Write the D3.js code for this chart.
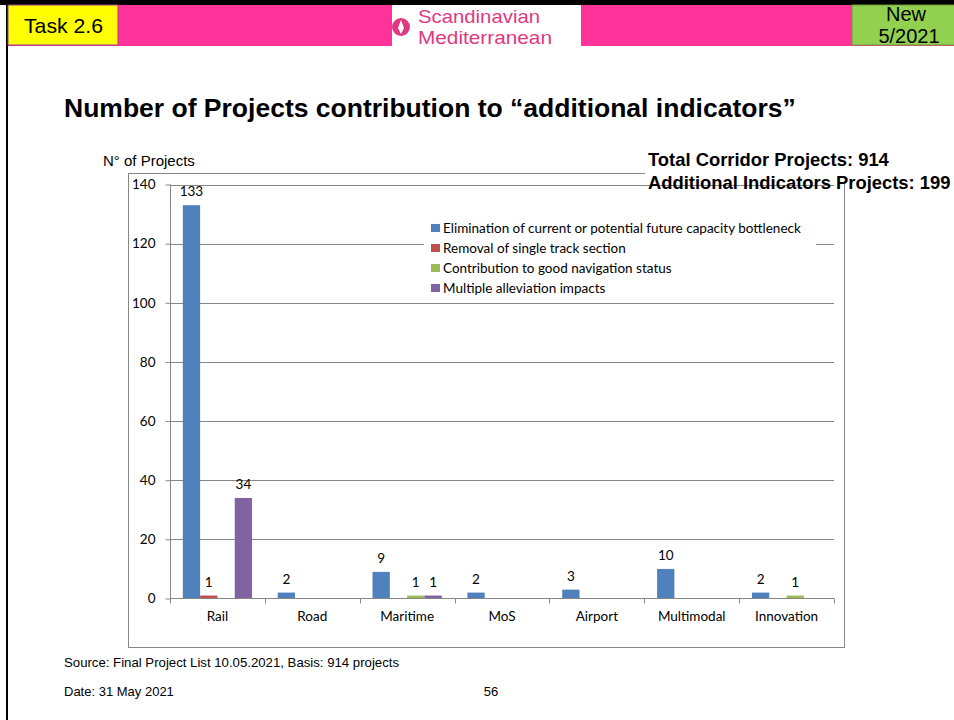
<!DOCTYPE html>
<html>
<head>
<meta charset="utf-8">
<script src="https://cdn.jsdelivr.net/npm/d3@7"></script>
<style>
  body { margin: 0; background: #fff; }
  svg { display: block; }
</style>
</head>
<body>
<script>
// chart values
var categories = ["Rail", "Road", "Maritime", "MoS", "Airport", "Multimodal", "Innovation"];
var seriesNames = [
  "Elimination of current or potential future capacity bottleneck",
  "Removal of single track section",
  "Contribution to good navigation status",
  "Multiple alleviation impacts"
];
var bottleneck  = [133, 2, 9, 2, 3, 10, 2];
var singleTrack = [1, 0, 0, 0, 0, 0, 0];
var navigation  = [0, 0, 1, 0, 0, 0, 1];
var multiple    = [34, 0, 1, 0, 0, 0, 0];
var yTicks = [0, 20, 40, 60, 80, 100, 120, 140];
var colors = ["#4F81BD", "#C0504D", "#9BBB59", "#8064A2"];

var seriesValues = [bottleneck, singleTrack, navigation, multiple];

var W = 954, H = 720;
var arial = "Liberation Sans, Arial, sans-serif";
var chartFont = "Lato, 'Open Sans', sans-serif";

var svg = d3.select("body").append("svg")
    .attr("width", W)
    .attr("height", H);

// slide header
svg.append("rect").attr("x", 0).attr("y", 0).attr("width", W).attr("height", 5).attr("fill", "#000");
svg.append("rect").attr("x", 6).attr("y", 0).attr("width", 2).attr("height", H).attr("fill", "#000");
svg.append("rect").attr("x", 8).attr("y", 5).attr("width", W - 8).attr("height", 41).attr("fill", "#FF3399");
svg.append("rect").attr("x", 8).attr("y", 5).attr("width", 110).attr("height", 40)
    .attr("fill", "#FFFF00").attr("stroke", "#9B3C8C").attr("stroke-width", 1);
svg.append("text").attr("x", 24).attr("y", 33)
    .attr("textLength", 79).attr("lengthAdjust", "spacingAndGlyphs")
    .style("font-family", arial).style("font-size", "21px")
    .text("Task 2.6");

svg.append("rect").attr("x", 852).attr("y", 5).attr("width", 104).attr("height", 40)
    .attr("fill", "#92D050").attr("stroke", "#6A9A3A").attr("stroke-width", 1);
var nw = svg.append("text").attr("text-anchor", "middle")
    .style("font-family", arial).style("font-size", "20px");
nw.append("tspan").attr("x", 906).attr("y", 21).text("New");
nw.append("tspan").attr("x", 909).attr("y", 43).text("5/2021");

// logo
svg.append("rect").attr("x", 392).attr("y", 5).attr("width", 189).attr("height", 41).attr("fill", "#fff");
svg.append("circle").attr("cx", 401).attr("cy", 27).attr("r", 9).attr("fill", "#E0397F");
svg.append("path").attr("d", "M401,20 L404,28 L401,34 L398,28 Z").attr("fill", "#fff");
var logo = svg.append("text")
    .style("font-family", arial).style("font-size", "19px")
    .attr("fill", "#E0397F");
logo.append("tspan").attr("x", 418).attr("y", 23)
    .attr("textLength", 122).attr("lengthAdjust", "spacingAndGlyphs").text("Scandinavian");
logo.append("tspan").attr("x", 418).attr("y", 44)
    .attr("textLength", 134).attr("lengthAdjust", "spacingAndGlyphs").text("Mediterranean");

// title
svg.append("text").attr("x", 64).attr("y", 117)
    .style("font-family", arial).style("font-size", "26.5px")
    .style("font-weight", "bold")
    .text("Number of Projects contribution to \u201Cadditional indicators\u201D");

// chart frame
svg.append("rect").attr("x", 128.5).attr("y", 173.5).attr("width", 716).attr("height", 474)
    .attr("fill", "#fff").attr("stroke", "#868686").attr("stroke-width", 1);

// axis title
svg.append("text").attr("x", 103).attr("y", 166)
    .style("font-family", arial).style("font-size", "15px")
    .text("N\u00B0 of Projects");

// white box of totals (covers frame corner)
svg.append("rect").attr("x", 645).attr("y", 148).attr("width", W - 645).attr("height", 33).attr("fill", "#fff");

var margin = {left: 170, right: 834, top: 184.5, bottom: 598.5};

var x0 = d3.scaleBand().domain(categories).range([margin.left, margin.right]).padding(0);
var x1 = d3.scaleBand().domain(d3.range(seriesNames.length))
    .range([0, x0.bandwidth()]).paddingInner(0).paddingOuter(0.74);
var y = d3.scaleLinear().domain([0, 140]).range([margin.bottom, margin.top]);

// gridlines
svg.append("g").selectAll("line")
  .data(yTicks.filter(function(d) { return d > 0; }))
  .enter().append("line")
    .attr("x1", margin.left).attr("x2", margin.right)
    .attr("y1", function(d) { return Math.round(y(d)) + 0.5; })
    .attr("y2", function(d) { return Math.round(y(d)) + 0.5; })
    .attr("stroke", "#868686").attr("stroke-width", 1);

// y axis
var yAxis = svg.append("g")
    .attr("transform", "translate(" + (margin.left + 0.5) + ",0)")
    .call(d3.axisLeft(y).tickValues(yTicks).tickSize(5).tickPadding(10));
yAxis.select(".domain").attr("stroke", "#868686").attr("d", "M0," + margin.top + "V" + margin.bottom);
yAxis.selectAll(".tick line").attr("stroke", "#868686");
yAxis.selectAll(".tick text")
    .style("font-family", chartFont).style("font-size", "13.5px").attr("fill", "#000");

// bars
var groups = svg.append("g").selectAll("g")
  .data(categories)
  .enter().append("g")
    .attr("transform", function(d) { return "translate(" + x0(d) + ",0)"; });

groups.selectAll("rect")
  .data(function(d, i) { return seriesValues.map(function(s, k) { return {k: k, v: s[i]}; }).filter(function(d) { return d.v > 0; }); })
  .enter().append("rect")
    .attr("x", function(d) { return x1(d.k); })
    .attr("width", x1.bandwidth())
    .attr("y", function(d) { return y(d.v); })
    .attr("height", function(d) { return y(0) - y(d.v); })
    .attr("fill", function(d) { return colors[d.k]; });

groups.selectAll("text")
  .data(function(d, i) { return seriesValues.map(function(s, k) { return {k: k, v: s[i]}; }).filter(function(d) { return d.v > 0; }); })
  .enter().append("text")
    .attr("x", function(d) { return x1(d.k) + x1.bandwidth() / 2; })
    .attr("y", function(d) { return y(d.v) - 9; })
    .attr("text-anchor", "middle")
    .style("font-family", chartFont).style("font-size", "13.5px")
    .text(function(d) { return d.v; });

// x axis
var xAxis = svg.append("g")
    .attr("transform", "translate(0," + margin.bottom + ")")
    .call(d3.axisBottom(x0).tickSize(0).tickPadding(13));
xAxis.select(".domain").attr("stroke", "#868686").attr("d", "M" + margin.left + ",0H" + margin.right);
xAxis.selectAll(".tick text")
    .style("font-family", chartFont).style("font-size", "13.5px").attr("fill", "#000");
xAxis.selectAll("line.bound")
  .data(categories.map(function(c) { return x0(c); }).concat([margin.right]))
  .enter().append("line").attr("class", "bound")
    .attr("x1", function(d) { return Math.round(d) + 0.5; })
    .attr("x2", function(d) { return Math.round(d) + 0.5; })
    .attr("y1", 0).attr("y2", 5)
    .attr("stroke", "#868686");

// legend
var legend = svg.append("g");
legend.append("rect").attr("x", 424).attr("y", 214).attr("width", 392).attr("height", 84).attr("fill", "#fff");
var li = legend.selectAll("g.item")
  .data(seriesNames)
  .enter().append("g").attr("class", "item")
    .attr("transform", function(d, i) { return "translate(431," + (224 + i * 20) + ")"; });
li.append("rect").attr("width", 9).attr("height", 8)
    .attr("fill", function(d, i) { return colors[i]; });
li.append("text").attr("x", 12).attr("y", 8.5)
    .style("font-family", chartFont).style("font-size", "13.5px")
    .text(function(d) { return d; });

// totals
var totals = svg.append("text")
    .style("font-family", arial).style("font-size", "18.4px")
    .style("font-weight", "bold");
totals.append("tspan").attr("x", 648).attr("y", 166).text("Total Corridor Projects: 914");
totals.append("tspan").attr("x", 648).attr("y", 189).text("Additional Indicators Projects: 199");

// footer
svg.append("text").attr("x", 64).attr("y", 667)
    .style("font-family", arial).style("font-size", "13.2px")
    .text("Source: Final Project List 10.05.2021, Basis: 914 projects");
svg.append("text").attr("x", 64).attr("y", 696)
    .style("font-family", arial).style("font-size", "13px")
    .text("Date: 31 May 2021");
svg.append("text").attr("x", 491).attr("y", 696).attr("text-anchor", "middle")
    .style("font-family", arial).style("font-size", "13px")
    .text("56");
</script>
</body>
</html>
